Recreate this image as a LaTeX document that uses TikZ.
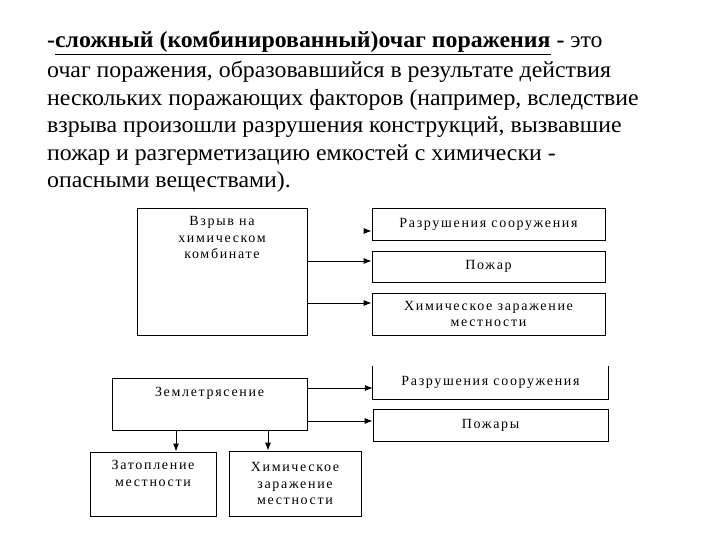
\documentclass[tikz,border=0pt]{standalone}
\usepackage{fontspec}
\setmainfont{Liberation Serif}
\newfontfamily\boxfont[LetterSpace=12]{Liberation Serif}
\usetikzlibrary{arrows.meta}

\newcommand{\txsc}{1.035}
\tikzset{
	titleline/.style={anchor=base west,inner sep=0pt,font=\fontsize{23bp}{27bp}\selectfont},
	block/.style={draw,line width=0.8bp,inner sep=0pt,align=center,
		font=\boxfont\fontsize{14bp}{16.5bp}\selectfont},
	blocktext/.style={inner sep=0pt,align=center,anchor=north,
		font=\boxfont\fontsize{14bp}{16.5bp}\selectfont}
}

\begin{document}
\begin{tikzpicture}[x=1bp,y=-1bp]
		\useasboundingbox[fill=white] (0,0) rectangle (720,540);
		% definition text
		\node[titleline] (T1) at (47,48) {\scalebox{\txsc}[1]{\textbf{-}\underline{\textbf{сложный (комбинированный)очаг поражения}} \textbf{-} это}};
		\node[titleline] (T2) at (47,78) {\scalebox{\txsc}[1]{очаг поражения, образовавшийся в результате действия}};
		\node[titleline] (T3) at (47,105.5) {\scalebox{\txsc}[1]{нескольких поражающих факторов (например, вследствие}};
		\node[titleline] (T4) at (47,133) {\scalebox{\txsc}[1]{взрыва произошли разрушения конструкций, вызвавшие}};
		\node[titleline] (T5) at (47,160.5) {\scalebox{\txsc}[1]{пожар и разгерметизацию емкостей с химически -}};
		\node[titleline] (T6) at (47,188) {\scalebox{\txsc}[1]{опасными веществами).}};
		% first scheme
		\node[block,minimum width=170bp,minimum height=127bp] (B) at (222,271.5) {};
		\node[blocktext] (B') at (222,216.5) {Взрыв на\\химическом\\комбинате};
		\node[block,minimum width=233bp,minimum height=32bp] (R) at (488.5,224) {Разрушения сооружения};
		\node[block,minimum width=233bp,minimum height=31bp] (P) at (488.5,266.5) {Пожар};
		\node[block,minimum width=233bp,minimum height=42bp] (H) at (488.5,314) {Химическое заражение\\местности};
		\coordinate (b1) at (364,231);
		\coordinate (b2) at (307,261);
		\coordinate (b3) at (307,303);
		% second scheme
		\node[block,minimum width=195bp,minimum height=52bp] (Z) at (209.5,404) {};
		\node[blocktext] (Z') at (209.5,387.5) {Землетрясение};
		\node[minimum width=235bp,minimum height=33bp,inner sep=0pt,
			font=\boxfont\fontsize{14bp}{16.5bp}\selectfont] (R') at (490.5,382.5) {Разрушения сооружения};
		\draw[line width=0.8bp] (R'.north west) -- (R'.south west) -- (R'.south east) -- (R'.north east);
		\node[block,minimum width=235bp,minimum height=32bp] (P') at (490.5,425) {Пожары};
		\node[block,minimum width=126bp,minimum height=64bp] (F) at (153,484) {};
		\node[blocktext] (F') at (153,460.5) {Затопление\\местности};
		\node[block,minimum width=132bp,minimum height=65bp] (H') at (295,483.5) {Химическое\\заражение\\местности};
		\coordinate (z1) at (307,388);
		\coordinate (z2) at (307,421);
		\coordinate (z3) at (176,430);
		\coordinate (z4) at (268,430);
		%
		\path[->,line width=0.8bp,>={Latex[length=8bp,width=6bp]}]
		% horizontal arrows
		(b1) edge (b1 -| R.west)
		(b2) edge (b2 -| P.west)
		(b3) edge (b3 -| H.west)
		(z1) edge (z1 -| R'.west)
		(z2) edge (z2 -| P'.west)
		% vertical arrows
		(z3) edge (z3 |- F.north)
		(z4) edge (z4 |- H'.north);
	\end{tikzpicture}
\end{document}
